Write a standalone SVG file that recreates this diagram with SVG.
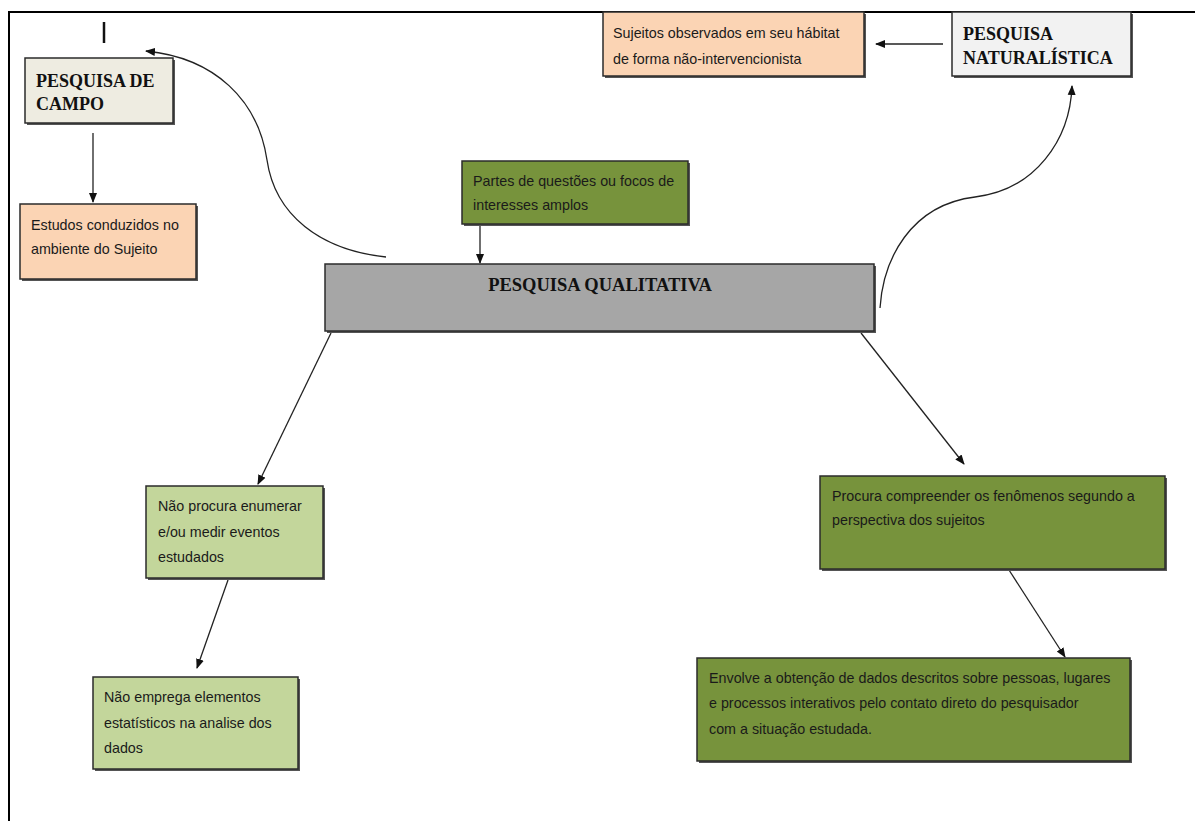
<svg xmlns="http://www.w3.org/2000/svg" width="1195" height="821" viewBox="0 0 1195 821">
<style>
.box{stroke:#2b2b2b;stroke-width:1.5}
.sh{fill:#555}
.t{font-family:"Liberation Sans",Arial,sans-serif;font-size:14.3px;fill:#1a1a1a}
.h{font-family:"Liberation Serif","Times New Roman",serif;font-size:18px;font-weight:bold;fill:#111}
.c{fill:none;stroke:#222;stroke-width:1.3}
</style>
<defs>
<marker id="ah" markerWidth="11" markerHeight="11" refX="9" refY="5" orient="auto" markerUnits="userSpaceOnUse">
<path d="M0,1 L10,5 L0,9 Z" fill="#111"/>
</marker>
</defs>
<rect width="1195" height="821" fill="#fff"/>
<g id="frame">
<line x1="8" y1="12" x2="1195" y2="12" stroke="#000" stroke-width="2"/>
<line x1="9" y1="11" x2="9" y2="821" stroke="#000" stroke-width="2"/>
<line x1="104" y1="22" x2="104" y2="43" stroke="#111" stroke-width="2.5"/>
</g>
<g id="connectors">
<line class="c" x1="93" y1="133" x2="93" y2="202" marker-end="url(#ah)"/>
<path class="c" d="M386,257 C320,250 275,215 267,160 C258,100 215,58 146,51" marker-end="url(#ah)"/>
<line class="c" x1="943" y1="44" x2="876" y2="44" marker-end="url(#ah)"/>
<path class="c" d="M880,308 C883,260 910,205 975,197 C1035,190 1070,140 1072,86" marker-end="url(#ah)"/>
<line class="c" x1="480" y1="225" x2="480" y2="263" marker-end="url(#ah)"/>
<line class="c" x1="331" y1="333" x2="258" y2="484" marker-end="url(#ah)"/>
<line class="c" x1="861" y1="333" x2="964" y2="464" marker-end="url(#ah)"/>
<line class="c" x1="228" y1="580" x2="197" y2="668" marker-end="url(#ah)"/>
<line class="c" x1="1009" y1="570" x2="1065" y2="657" marker-end="url(#ah)"/>
</g>
<g id="campo">
<rect class="sh" x="27" y="60" width="148" height="65"/>
<rect class="box" x="25" y="58" width="148" height="65" fill="#eeece1"/>
<text class="h" x="36" y="87">PESQUISA DE</text>
<text class="h" x="36" y="110">CAMPO</text>
</g>
<g id="estudos">
<rect class="sh" x="22" y="206" width="176" height="75"/>
<rect class="box" x="20" y="204" width="176" height="75" fill="#fbd4b4"/>
<text class="t" x="31" y="230">Estudos conduzidos no</text>
<text class="t" x="31" y="254">ambiente do Sujeito</text>
</g>
<g id="sujeitos">
<rect class="sh" x="605" y="14" width="261" height="64"/>
<rect class="box" x="603" y="12" width="261" height="64" fill="#fbd4b4"/>
<text class="t" x="613" y="38">Sujeitos observados em seu hábitat</text>
<text class="t" x="613" y="64">de forma não-intervencionista</text>
</g>
<g id="naturalistica">
<rect class="sh" x="954" y="14" width="179" height="64"/>
<rect class="box" x="952" y="12" width="179" height="64" fill="#f2f2f2"/>
<text class="h" x="963" y="40">PESQUISA</text>
<text class="h" x="963" y="64">NATURALÍSTICA</text>
</g>
<g id="partes">
<rect class="sh" x="464" y="163" width="226" height="63"/>
<rect class="box" x="462" y="161" width="226" height="63" fill="#77933c"/>
<text class="t" x="473" y="186">Partes de questões ou focos de</text>
<text class="t" x="473" y="210">interesses amplos</text>
</g>
<g id="qualitativa">
<rect class="sh" x="327" y="266" width="549" height="67"/>
<rect class="box" x="325" y="264" width="549" height="67" fill="#a6a6a6"/>
<text class="h" x="600" y="291" text-anchor="middle" style="font-size:18.5px">PESQUISA QUALITATIVA</text>
</g>
<g id="naoprocura">
<rect class="sh" x="148" y="488" width="177" height="92"/>
<rect class="box" x="146" y="486" width="177" height="92" fill="#c3d69b"/>
<text class="t" x="158" y="511">Não procura enumerar</text>
<text class="t" x="158" y="537">e/ou medir eventos</text>
<text class="t" x="158" y="562">estudados</text>
</g>
<g id="naoemprega">
<rect class="sh" x="95" y="679" width="205" height="92"/>
<rect class="box" x="93" y="677" width="205" height="92" fill="#c3d69b"/>
<text class="t" x="104" y="702">Não emprega elementos</text>
<text class="t" x="104" y="728">estatísticos na analise dos</text>
<text class="t" x="104" y="753">dados</text>
</g>
<g id="procura">
<rect class="sh" x="822" y="478" width="345" height="93"/>
<rect class="box" x="820" y="476" width="345" height="93" fill="#77933c"/>
<text class="t" x="832" y="501">Procura compreender os fenômenos segundo a</text>
<text class="t" x="832" y="525">perspectiva dos sujeitos</text>
</g>
<g id="envolve">
<rect class="sh" x="699" y="660" width="433" height="103"/>
<rect class="box" x="697" y="658" width="433" height="103" fill="#77933c"/>
<text class="t" x="709" y="683">Envolve a obtenção de dados descritos sobre pessoas,  lugares</text>
<text class="t" x="709" y="708">e processos interativos pelo contato direto do pesquisador</text>
<text class="t" x="709" y="734">com a situação estudada.</text>
</g>
</svg>
